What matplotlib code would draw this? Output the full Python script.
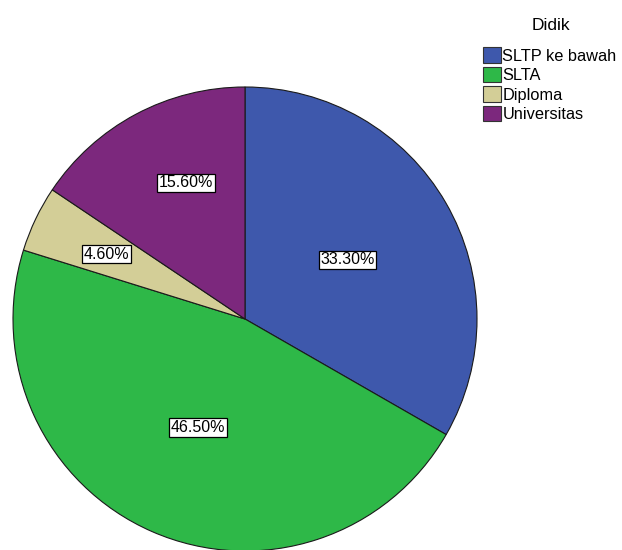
import matplotlib
matplotlib.use("Agg")
import matplotlib.pyplot as plt
import numpy as np

plt.rcParams['font.family'] = ['Liberation Sans', 'DejaVu Sans']

categories = ["SLTP ke bawah", "SLTA", "Diploma", "Universitas"]
percentages = [33.3, 46.5, 4.6, 15.6]
colors = ["#3E58AC", "#2EB848", "#D3CE97", "#7C287D"]
legend_title = "Didik"

W, H = 622, 550
fig = plt.figure(figsize=(W / 100, H / 100), dpi=100)

# pie occupies a square box in pixel space
cx, cy, r = 245, 319, 232
ax = fig.add_axes([(cx - r) / W, (H - cy - r) / H, 2 * r / W, 2 * r / H])

wedges, _ = ax.pie(
    percentages, colors=colors, startangle=90, counterclock=False,
    radius=1.0, wedgeprops=dict(edgecolor="#1a1a1a", linewidth=0.8),
)
ax.set_xlim(-1, 1)
ax.set_ylim(-1, 1)
ax.set_aspect("equal")
ax.axis("off")

# label placement: radial distance and angle tweak per wedge
label_dist = [0.51, 0.51, 0.66, 0.64]
angle_shift = [0.0, 0.0, 0.5, -4.7]
for w, p, d, s in zip(wedges, percentages, label_dist, angle_shift):
    mid = np.deg2rad((w.theta1 + w.theta2) / 2 + s)
    ax.text(d * np.cos(mid), d * np.sin(mid), f"{p:.2f}%",
            ha="center", va="center", fontsize=11.5, color="black",
            bbox=dict(boxstyle="square,pad=0.1", facecolor="white",
                      edgecolor="black", linewidth=0.9))

# legend title drawn separately to keep the gap above the entries
fig.text(551 / W, 1 - 25 / H, legend_title, ha="center", va="center",
         fontsize=12.5)
leg = fig.legend(
    wedges, categories, loc="upper left",
    bbox_to_anchor=(472 / W, 1 - 36 / H), frameon=False,
    fontsize=11.8, handlelength=1.05, handleheight=1.05,
    handletextpad=0.1, labelspacing=0.2, borderpad=0.2,
)
for h in leg.legend_handles:
    h.set_edgecolor("#333333")
    h.set_linewidth(0.8)

fig.savefig("out.png", dpi=100)
